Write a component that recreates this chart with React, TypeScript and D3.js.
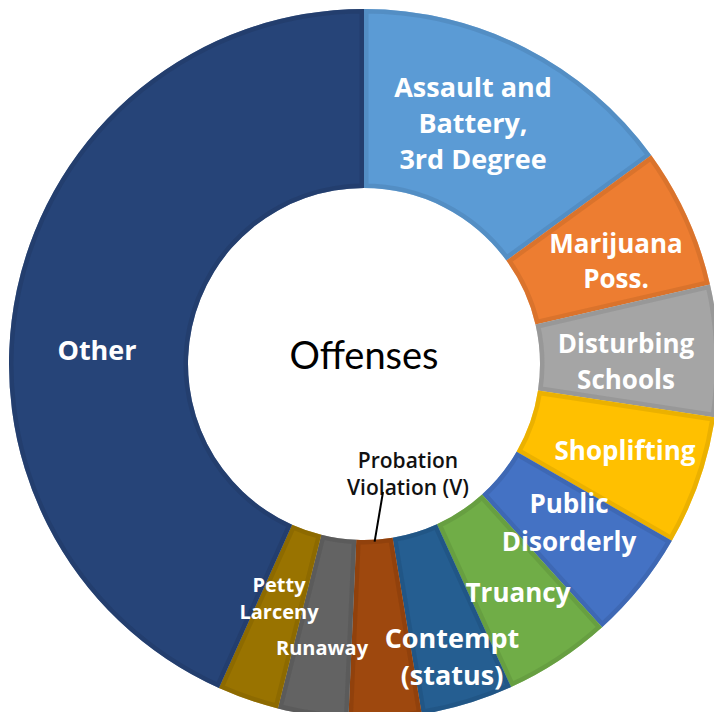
import React from "react";
import * as d3 from "d3";

const categories = [
  "Assault and Battery, 3rd Degree",
  "Marijuana Poss.",
  "Disturbing Schools",
  "Shoplifting",
  "Public Disorderly",
  "Truancy",
  "Contempt (status)",
  "Probation Violation (V)",
  "Runaway",
  "Petty Larceny",
  "Other",
];
const values = [15.0, 6.4, 6.0, 5.9, 5.0, 4.9, 4.2, 3.3, 3.2, 2.8, 43.3];
const labelLines = [
  ["Assault and", "Battery,", "3rd Degree"],
  ["Marijuana", "Poss."],
  ["Disturbing", "Schools"],
  ["Shoplifting"],
  ["Public", "Disorderly"],
  ["Truancy"],
  ["Contempt", "(status)"],
  ["Probation", "Violation (V)"],
  ["Runaway"],
  ["Petty", "Larceny"],
  ["Other"],
];
const colors = [
  "#5B9BD5", "#ED7D31", "#A5A5A5", "#FFC000", "#4472C4", "#70AD47",
  "#255E91", "#9E480E", "#636363", "#997300", "#264478",
];
const centerTitle = "Offenses";

// layout (not data)
const W = 714, H = 712;
const CX = 364, CY = 364, R_OUT = 355, R_IN = 176;
const labelStyle = [
  { size: 27, lh: 36 },
  { size: 26, lh: 35 },
  { size: 26, lh: 36 },
  { size: 26, lh: 36 },
  { size: 26, lh: 38 },
  { size: 26, lh: 36 },
  { size: 27, lh: 37 },
  { size: 21, lh: 27 },
  { size: 20, lh: 25 },
  { size: 20, lh: 27 },
  { size: 27, lh: 36 },
];
const labelPos: [number, number][] = [
  [473, 122], [616, 260], [626, 361], [625, 450], [569, 522], [518, 592],
  [452, 656], [408, 473], [322, 647], [279, 598], [97, 349],
];

export default function App() {
  const pie = d3.pie<number>().sort(null).value((d) => d)(values);
  const arc = d3.arc<d3.PieArcDatum<number>>().innerRadius(R_IN).outerRadius(R_OUT);
  const font = "'Open Sans', Lato, sans-serif";
  const p7 = pie[7];
  const mid7 = (p7.startAngle + p7.endAngle) / 2;
  return (
    <svg width={W} height={H} style={{ position: "absolute", left: 0, top: 0, background: "#fff" }}>
      <defs>
        {pie.map((p, i) => (
          <clipPath id={`clip${i}`} key={i}>
            <path d={arc(p) || ""} />
          </clipPath>
        ))}
      </defs>
      <g transform={`translate(${CX},${CY})`}>
        {pie.map((p, i) => (
          <g key={i}>
            <path d={arc(p) || ""} fill={colors[i]} />
            <path
              d={arc(p) || ""}
              fill="none"
              stroke={d3.color(colors[i])!.darker(0.4).toString()}
              strokeWidth={9}
              strokeOpacity={0.6}
              clipPath={`url(#clip${i})`}
            />
          </g>
        ))}
      </g>
      <text x={CX} y={CY - 10} textAnchor="middle" dominantBaseline="central" fontFamily="Lato, sans-serif" fontSize={38} fill="#000">
        {centerTitle}
      </text>
      {pie.map((p, i) => {
        const st = labelStyle[i];
        const [x, y] = labelPos[i];
        const lines = labelLines[i];
        const isCallout = i === 7;
        return (
          <text key={i} x={x} textAnchor="middle" fontFamily={font} fontWeight={isCallout ? 600 : 700} fontSize={st.size} fill={isCallout ? "#111" : "#fff"}>
            {lines.map((l, j) => (
              <tspan key={j} x={x} y={y + (j - (lines.length - 1) / 2) * st.lh} dominantBaseline="central">
                {l}
              </tspan>
            ))}
          </text>
        );
      })}
      <line
        x1={383}
        y1={492}
        x2={CX + Math.sin(mid7) * (R_IN + 2)}
        y2={CY - Math.cos(mid7) * (R_IN + 2)}
        stroke="#000"
        strokeWidth={2}
      />
    </svg>
  );
}
